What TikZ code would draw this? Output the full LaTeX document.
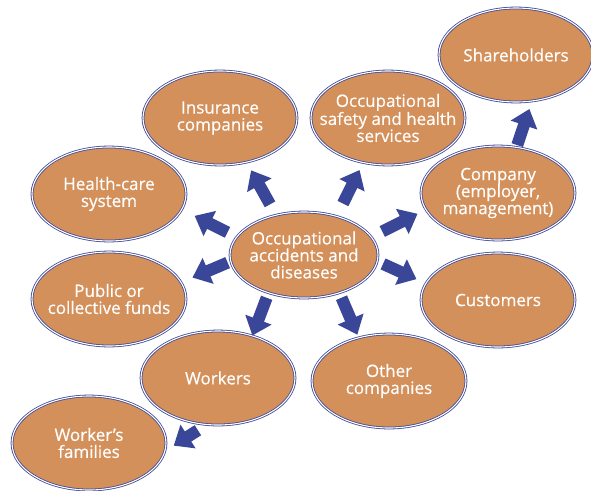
\documentclass[tikz,border=0pt]{standalone}
\usepackage{fontspec}
\setmainfont{Open Sans}
\usetikzlibrary{arrows.meta,shapes.geometric}
\definecolor{ovfill}{RGB}{212,144,90}
\definecolor{ovline}{RGB}{62,72,150}
\definecolor{arrcol}{RGB}{58,70,152}
\tikzset{
  oval/.style={ellipse, draw=ovline, line width=0.8pt, double=white, double distance=1.1pt,
    fill=ovfill, minimum width=154pt, minimum height=94pt, inner sep=0pt},
  txt/.style={text=white, align=center, inner sep=0pt,
    font=\fontsize{17}{17}\selectfont\addfontfeature{FakeBold=0.4}},
  barrow/.style={draw=arrcol, line width=12pt, -{Triangle[width=27pt,length=17pt]}},
}
\begin{document}
\begin{tikzpicture}[x=1pt,y=-1pt]
\useasboundingbox (0,0) rectangle (591,490);
% ovals
\node[oval] (sh) at (516,55) {};
\node[oval] (osh) at (388,118) {};
\node[oval] (ins) at (220,118) {};
\node[oval] (hc) at (109,194) {};
\node[oval] (comp) at (498,193) {};
\node[oval, minimum width=148pt, minimum height=86pt] (c) at (304,255) {};
\node[oval] (pub) at (109,299) {};
\node[oval] (cus) at (498,300) {};
\node[oval] (wk) at (218,378) {};
\node[oval] (oth) at (389,381) {};
\node[oval] (wf) at (89,443) {};
% texts
\node[txt] (sh-t) at (sh) {Shareholders};
\node[txt] (osh-t) at (osh) {Occupational\\safety and health\\services};
\node[txt] (ins-t) at (ins) {Insurance\\companies};
\node[txt] (hc-t) at (hc) {Health-care\\system};
\node[txt] (comp-t) at (comp) {Company\\(employer,\\management)};
\node[txt] (c-t) at (c) {Occupational\\accidents and\\diseases};
\node[txt] (pub-t) at (pub) {Public or\\collective funds};
\node[txt] (cus-t) at (cus) {Customers};
\node[txt] (wk-t) at (wk) {Workers};
\node[txt] (oth-t) at (oth) {Other\\companies};
\node[txt] (wf-t) at (wf) {Worker’s\\families};
% arrows
\draw[barrow, shorten <=12pt, shorten >=9pt] (c.125.8) -- (ins.-59);
\draw[barrow, shorten <=10pt, shorten >=14pt] (c.165.4) -- (hc.-12);
\draw[barrow, shorten <=3pt, shorten >=12pt] (c.185.3) -- (pub.13.5);
\draw[barrow, shorten <=5pt, shorten >=0pt] (c.227.1) -- (wk.51.3);
\draw[barrow, shorten <=5pt, shorten >=3pt] (c.-47.9) -- (oth.125.2);
\draw[barrow, shorten <=6pt, shorten >=10pt] (c.-5.8) -- (cus.167.8);
\draw[barrow, shorten <=12pt, shorten >=9pt] (c.15.6) -- (comp.193);
\draw[barrow, shorten <=14pt, shorten >=8pt] (c.50.6) -- (osh.241.7);
\draw[barrow, shorten <=2pt, shorten >=8pt] (comp.68.2) -- (sh.-71.9);
\draw[barrow, shorten <=10pt, shorten >=10pt] (wk.256.7) -- (wf.-6.8);
\end{tikzpicture}
\end{document}
